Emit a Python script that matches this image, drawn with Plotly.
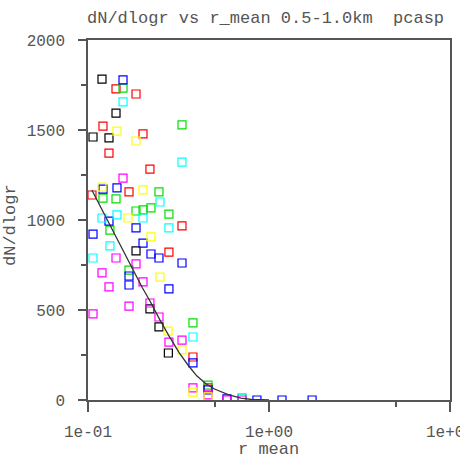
import plotly.graph_objects as go

# ---- data ----
black_x = [0.1195, 0.1066, 0.1306, 0.1428, 0.1842, 0.2199, 0.2467, 0.2780]
black_y = [1783, 1461, 1456, 1594, 828, 506, 406, 261]

red_x = [0.1428, 0.1842, 0.1210, 0.2013, 0.1306, 0.2199, 0.1052, 0.1685, 0.2800, 0.3306, 0.3801, 0.4603]
red_y = [1728, 1700, 1522, 1478, 1372, 1283, 1139, 1156, 822, 967, 239, 67]

green_x = [0.1561, 0.3306, 0.2467, 0.1210, 0.1428, 0.1842, 0.2013, 0.2228, 0.2800, 0.1322, 0.1685, 0.3801, 0.4603, 0.7095]
green_y = [1733, 1528, 1156, 1122, 1117, 1050, 1056, 1067, 1033, 944, 722, 428, 83, 11]

blue_x = [0.1561, 0.1210, 0.1446, 0.1306, 0.1842, 0.1066, 0.2013, 0.2228, 0.2467, 0.3306, 0.1685, 0.1685,
          0.2800, 0.3801, 0.4603, 0.5856, 0.8577, 1.18, 1.73]
blue_y = [1778, 1172, 1178, 994, 956, 922, 872, 811, 789, 761, 689, 639, 617, 206, 56, 6, 0, 0, 0]

cyan_x = [0.1561, 0.3306, 0.2498, 0.2013, 0.1446, 0.1195, 0.2800, 0.1322, 0.1066, 0.3801, 0.7095]
cyan_y = [1656, 1322, 1100, 1011, 1028, 1011, 956, 856, 789, 350, 11]

magenta_x = [0.1561, 0.1428, 0.1842, 0.1195, 0.2013, 0.1306, 0.1066, 0.1685, 0.2199, 0.2467, 0.2800,
             0.3306, 0.3801, 0.4603, 0.5856, 0.7095]
magenta_y = [1233, 789, 756, 706, 656, 628, 478, 522, 539, 461, 322, 333, 67, 28, 0, 0]

yellow_x = [0.1446, 0.1840, 0.1195, 0.2013, 0.1663, 0.2228, 0.2498, 0.2768, 0.3306, 0.3801, 0.4603]
yellow_y = [1494, 1439, 1183, 1167, 1011, 906, 683, 383, 278, 44, 17]

fit_x = [0.105, 0.12, 0.14, 0.16, 0.18, 0.20, 0.22, 0.25, 0.28, 0.32, 0.36, 0.40, 0.45, 0.50, 0.60, 0.70, 0.80, 1.0]
fit_y = [1167, 1056, 922, 811, 711, 622, 550, 444, 356, 261, 189, 133, 89, 61, 28, 11, 3, 0]

x_tickvals = [0.1, 1, 10]
x_ticktext = ["1e-01", "1e+00", "1e+01"]
y_tickvals = [0, 500, 1000, 1500, 2000]

series = [
    (black_x, black_y, "#000000"),
    (red_x, red_y, "#ff0000"),
    (green_x, green_y, "#00e000"),
    (blue_x, blue_y, "#0000ff"),
    (cyan_x, cyan_y, "#00ffff"),
    (magenta_x, magenta_y, "#ff00ff"),
    (yellow_x, yellow_y, "#ffff00"),
]

FONT = "Liberation Mono"
TXT = "#555555"
AX = "#555555"

fig = go.Figure()
for xs, ys, c in series:
    fig.add_trace(go.Scatter(
        x=xs, y=ys, mode="markers",
        marker=dict(symbol="square-open", size=8, color=c, line=dict(width=1.2, color=c)),
        showlegend=False, hoverinfo="skip"))

fig.add_trace(go.Scatter(x=fit_x, y=fit_y, mode="lines", line=dict(color="#333333", width=1.3),
                         showlegend=False, hoverinfo="skip"))

fig.update_layout(
    width=460, height=454,
    margin=dict(l=88, r=10, t=40, b=54, autoexpand=False),
    paper_bgcolor="white", plot_bgcolor="white",
    font=dict(family=FONT, size=16, color=TXT),
)

fig.update_xaxes(
    type="log", range=[-1, 1], automargin=False,
    tickvals=x_tickvals, ticktext=x_ticktext,
    ticks="outside", ticklen=10, tickwidth=1.5, tickcolor=AX,
    ticklabelstandoff=6, ticklabeloverflow="allow",
    showline=True, linecolor=AX, linewidth=1.5, mirror=True,
    showgrid=False, zeroline=False,
    minor=dict(tickvals=[0.5, 5], ticks="outside", ticklen=5, tickcolor=AX, tickwidth=1.5, showgrid=False),
    tickfont=dict(family=FONT, size=16, color=TXT),
)
fig.update_yaxes(
    range=[0, 2000], automargin=False,
    tickvals=y_tickvals,
    ticks="outside", ticklen=8, tickwidth=1.5, tickcolor=AX,
    ticklabelstandoff=10, ticklabeloverflow="allow",
    showline=True, linecolor=AX, linewidth=1.5, mirror=True,
    showgrid=False, zeroline=False,
    minor=dict(tickvals=[250, 750, 1250, 1750], ticks="outside", ticklen=5, tickcolor=AX, tickwidth=1.5, showgrid=False),
    tickfont=dict(family=FONT, size=16, color=TXT),
)

fig.add_annotation(text="dN/dlogr vs r_mean 0.5-1.0km  pcasp", xref="paper", yref="paper",
                   x=(265 - 88) / 362, y=1 + (40 - 19) / 360, xanchor="center", yanchor="middle",
                   showarrow=False, font=dict(family=FONT, size=17, color=TXT))
fig.add_annotation(text="r_mean", xref="paper", yref="paper",
                   x=(268 - 88) / 362, y=-(449 - 400) / 360, xanchor="center", yanchor="middle",
                   showarrow=False, font=dict(family=FONT, size=17, color=TXT))
fig.add_annotation(text="dN/dlogr", xref="paper", yref="paper", textangle=-90,
                   x=-(88 - 11) / 362, y=(400 - 225) / 360, xanchor="center", yanchor="middle",
                   showarrow=False, font=dict(family=FONT, size=17, color=TXT))

fig.write_html("out.html")
